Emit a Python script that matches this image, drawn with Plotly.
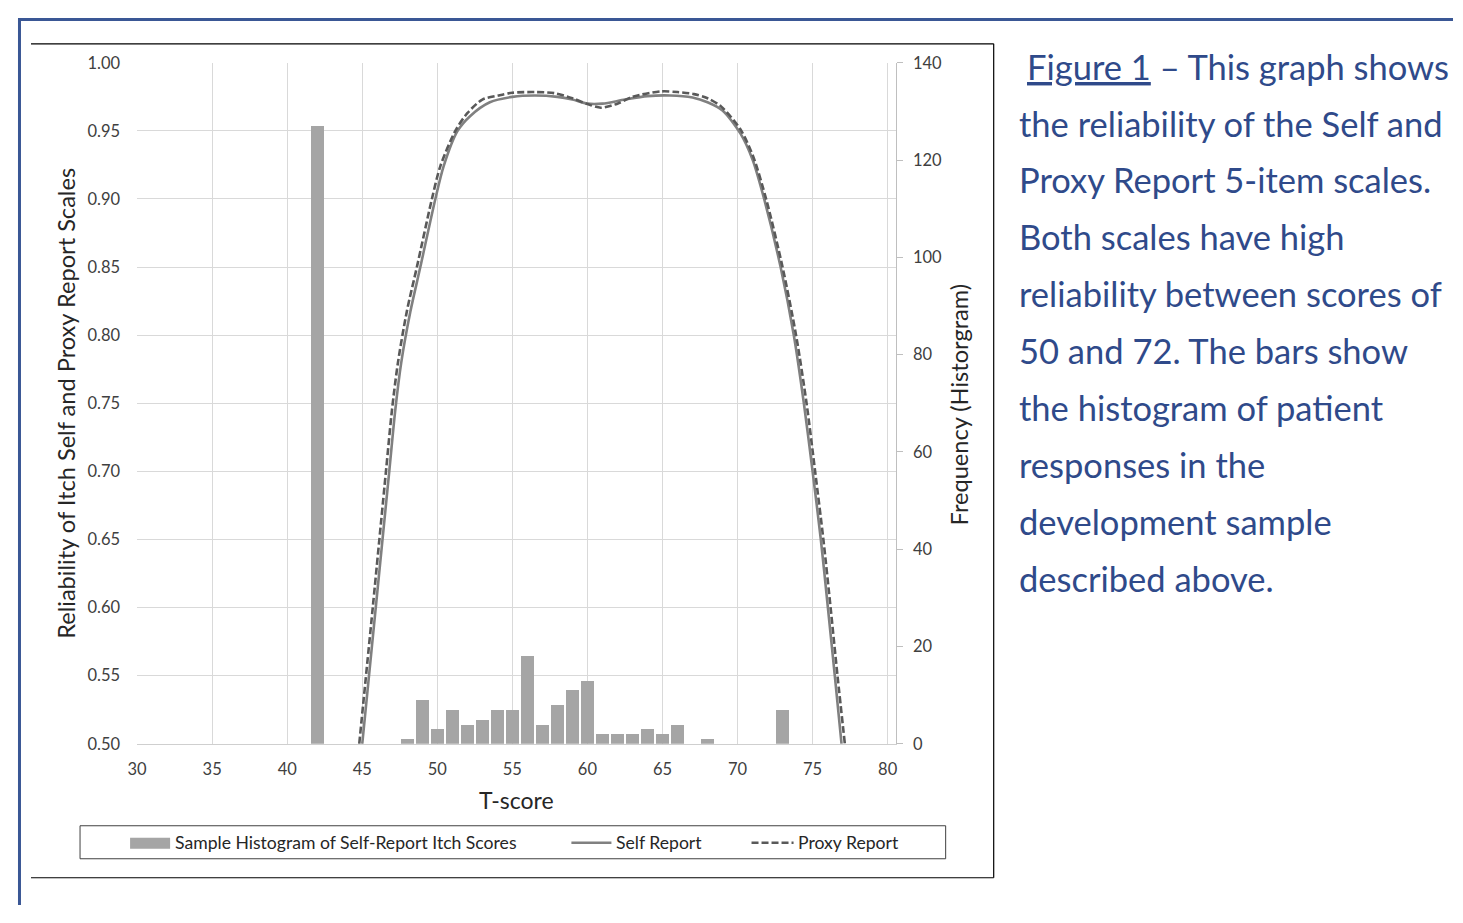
import plotly.graph_objects as go

# ---------------- data ----------------
hist_t = [42, 48, 49, 50, 51, 52, 53, 54, 55, 56, 57, 58, 59, 60, 61, 62, 63, 64, 65, 66, 68, 73]
hist_n = [127, 1, 9, 3, 7, 4, 5, 7, 7, 18, 4, 8, 11, 13, 2, 2, 2, 3, 2, 4, 1, 7]

self_t = [45.0, 45.9, 46.8, 47.2, 47.6, 48.2, 48.87, 49.87, 50.42, 51.35, 52.2, 53.5, 55.0, 56.5,
          58.0, 59.0, 60.0, 61.0, 62.5, 64.0, 65.5, 67.0, 68.0, 69.0, 70.2, 71.0, 71.8,
          72.87, 73.75, 74.42, 75.0, 75.55, 76.02, 76.48, 76.93]
self_r = [0.500, 0.600, 0.700, 0.745, 0.780, 0.817, 0.850, 0.900, 0.924, 0.950, 0.961, 0.971, 0.975, 0.976,
          0.975, 0.973, 0.970, 0.970, 0.973, 0.9755, 0.976, 0.9745, 0.971, 0.965, 0.948, 0.929, 0.899,
          0.850, 0.800, 0.750, 0.700, 0.650, 0.600, 0.550, 0.500]

proxy_t = [44.8, 45.7, 46.58, 46.98, 47.38, 47.98, 48.64, 49.64, 50.2, 51.2, 52.0, 53.0, 54.07, 55.0, 56.5,
           57.8, 59.0, 60.0, 60.9, 62.0, 63.0, 64.9, 66.0, 67.1, 68.0, 68.9, 70.2, 71.05, 71.93,
           73.0, 73.9, 74.6, 75.17, 75.72, 76.2, 76.66, 77.15]
proxy_r = [0.500, 0.600, 0.700, 0.745, 0.780, 0.818, 0.850, 0.900, 0.924, 0.950, 0.963, 0.973, 0.976, 0.978, 0.9785,
           0.9777, 0.974, 0.9697, 0.967, 0.970, 0.975, 0.979, 0.9785, 0.977, 0.974, 0.968, 0.951, 0.931, 0.899,
           0.850, 0.800, 0.750, 0.700, 0.650, 0.600, 0.550, 0.500]

x_ticks = [30, 35, 40, 45, 50, 55, 60, 65, 70, 75, 80]
caption_lines = [
    "<u>Figure 1</u> \u2013 This graph shows",
    "the reliability of the Self and",
    "Proxy Report 5-item scales.",
    "Both scales have high",
    "reliability between scores of",
    "50 and 72. The bars show",
    "the histogram of patient",
    "responses in the",
    "development sample",
    "described above.",
]
legend_labels = ["Sample Histogram of Self-Report Itch Scores", "Self Report", "Proxy Report"]

# ---------------- layout helpers ----------------
OFF = 8                      # page body margin
W, H = 1463 - 2 * OFF, 923 - 2 * OFF
# map target picture pixels -> figure paper coordinates (calibrated)
def X(px):
    return max(0.0, (px - 18.0) / 0.991) / W
def Y(py):
    return 1 - max(0.0, (py - 17.2) / 0.978) / H

FONT = "Lato"
BAR_C = "#a5a5a5"
SELF_C = "#808080"
PROXY_C = "#595959"
BLUE = "#2f4a8a"
GRID = "#d9d9d9"

fig = go.Figure()
fig.add_trace(go.Bar(x=hist_t, y=hist_n, yaxis="y2", width=0.85, marker=dict(color=BAR_C, line=dict(width=0)),
                     name=legend_labels[0], showlegend=False))
fig.add_trace(go.Scatter(x=self_t, y=self_r, mode="lines", name=legend_labels[1], showlegend=False,
                         line=dict(color=SELF_C, width=2.6, shape="spline", smoothing=0.8)))
fig.add_trace(go.Scatter(x=proxy_t, y=proxy_r, mode="lines", name=legend_labels[2], showlegend=False,
                         line=dict(color=PROXY_C, width=2.6, dash="7px,3px", shape="spline", smoothing=0.8)))

tickfont = dict(family=FONT, size=16.5, color="#404040")
fig.update_layout(
    width=W, height=H, margin=dict(l=0, r=0, t=0, b=0),
    paper_bgcolor="white", plot_bgcolor="white",
    bargap=0,
    xaxis=dict(domain=[X(137), X(895)], range=[30, 80.533], tickvals=x_ticks,
               showgrid=True, gridcolor=GRID, gridwidth=1, zeroline=False,
               showline=True, linecolor="#cfcfcf", ticks="", tickfont=tickfont,
               ticklabelstandoff=10),
    yaxis=dict(domain=[Y(743), Y(62)], range=[0.5, 1.0], dtick=0.05, tick0=0.5, tickformat=".2f",
               showgrid=True, gridcolor=GRID, gridwidth=1, zeroline=False, showline=False,
               ticks="", tickfont=tickfont, ticklabelstandoff=16),
    yaxis2=dict(overlaying="y", side="right", anchor="x", range=[0, 140], dtick=20,
                showgrid=False, zeroline=False, showline=True, linecolor="#bfbfbf",
                ticks="outside", ticklen=6, tickcolor="#bfbfbf", tickfont=tickfont,
                ticklabelstandoff=7),
)

shapes = []
# page frame (blue)
shapes.append(dict(type="line", xref="paper", yref="paper", x0=0, x1=1, y0=1 - 1.5 / H, y1=1 - 1.5 / H,
                   line=dict(color="#3a5795", width=3)))
shapes.append(dict(type="line", xref="paper", yref="paper", x0=1.5 / W, x1=1.5 / W, y0=1, y1=0,
                   line=dict(color="#3a5795", width=3)))
# chart frame (black, top/right/bottom)
for (x0, y0, x1, y1) in [(31, 43, 993, 43), (993, 43, 993, 877), (31, 877, 993, 877)]:
    shapes.append(dict(type="line", xref="paper", yref="paper", x0=X(x0), x1=X(x1), y0=Y(y0), y1=Y(y1),
                       line=dict(color="black", width=1.2)))
# legend box
shapes.append(dict(type="rect", xref="paper", yref="paper", x0=X(80), x1=X(945), y0=Y(858), y1=Y(825),
                   line=dict(color="#404040", width=1), fillcolor="white"))
shapes.append(dict(type="rect", xref="paper", yref="paper", x0=X(130), x1=X(170), y0=Y(848), y1=Y(837),
                   line=dict(width=0), fillcolor=BAR_C))
shapes.append(dict(type="line", xref="paper", yref="paper", x0=X(571), x1=X(611), y0=Y(842), y1=Y(842),
                   line=dict(color=SELF_C, width=2.6)))
shapes.append(dict(type="line", xref="paper", yref="paper", x0=X(751), x1=X(793), y0=Y(842), y1=Y(842),
                   line=dict(color=PROXY_C, width=2.6, dash="7px,3px")))
fig.update_layout(shapes=shapes)

ann = []
legend_x = [173, 614, 795]
for lx, lab in zip(legend_x, legend_labels):
    ann.append(dict(xref="paper", yref="paper", x=X(lx), y=Y(842), text=lab, showarrow=False,
                    xanchor="left", yanchor="middle", font=dict(family=FONT, size=17.6, color="#262626")))
# axis titles
ann.append(dict(xref="paper", yref="paper", x=X(66), y=Y(403), text="Reliability of Itch Self and Proxy Report Scales",
                showarrow=False, textangle=-90, xanchor="center", yanchor="middle",
                font=dict(family=FONT, size=23.6, color="#262626")))
ann.append(dict(xref="paper", yref="paper", x=X(516), y=Y(799), text="T-score", showarrow=False,
                xanchor="center", yanchor="middle", font=dict(family=FONT, size=23, color="#262626")))
ann.append(dict(xref="paper", yref="paper", x=X(958), y=Y(404), text="Frequency (Historgram)",
                showarrow=False, textangle=-90, xanchor="center", yanchor="middle",
                font=dict(family=FONT, size=23.6, color="#262626")))
# caption
cap_y = [66, 123, 179, 236, 293, 350, 407, 464, 521, 578]
for i, (line, cy) in enumerate(zip(caption_lines, cap_y)):
    ann.append(dict(xref="paper", yref="paper", x=X(1024 if i == 0 else 1016), y=Y(cy), text=line,
                    showarrow=False, xanchor="left", yanchor="middle",
                    font=dict(family=FONT, size=34.5, color=BLUE)))
fig.update_layout(annotations=ann)

fig.write_html("out.html")
